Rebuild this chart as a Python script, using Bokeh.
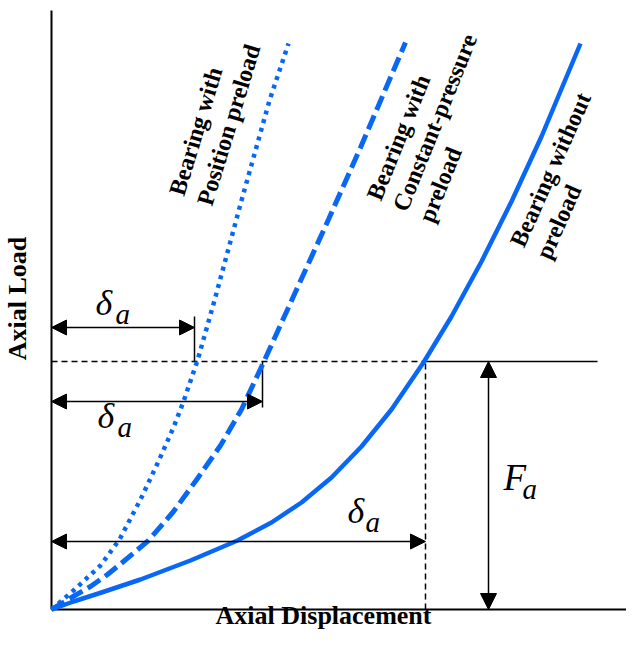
import math
from bokeh.plotting import figure
from bokeh.models import Arrow, NormalHead, Range1d
from bokeh.core.properties import value
from bokeh.embed import file_html
from bokeh.resources import INLINE

# ---- data (displacement, load) in arbitrary chart units ----
disp_without = [0, 22, 50, 89, 139, 186, 220, 250, 280, 310, 340, 372, 400, 430, 460, 490, 529]
load_without = [0, 8, 17, 30, 49, 69, 87, 107, 132, 163, 200, 247, 293, 348, 408, 473, 566]

disp_const = [0, 20, 39, 56, 72, 97, 122, 146, 169, 190, 212, 246, 277, 309, 354]
load_const = [0, 12, 23, 35, 48, 69, 98, 131, 164, 200, 247, 322, 390, 462, 567]

disp_pos = [0, 22, 49, 68, 89, 106, 122, 132, 146, 163, 190, 218, 237]
load_pos = [0, 19, 44, 70, 110, 146, 182, 208, 249, 309, 409, 509, 566]

Fa = 248                      # axial load level
delta_a = [143, 211, 374]     # displacement at Fa: position, constant-pressure, without
x_label = "Axial Displacement"
y_label = "Axial Load"

BLUE = "#0868F5"
SERIF = value("Liberation Serif")
LIFT = 0.4  # baseline correction (fraction of font size)

p = figure(width=626, height=631, x_range=Range1d(-51, 575), y_range=Range1d(-22, 609),
           output_backend="svg", toolbar_location=None, min_border=0,
           x_axis_type=None, y_axis_type=None)
p.outline_line_color = None
p.grid.visible = False
p.background_fill_color = "white"
p.border_fill_color = "white"

# axes lines
x_end, y_end = 600, 599
p.segment(x0=[0, 0], y0=[0, 0], x1=[0, x_end], y1=[y_end, 0], line_color="black", line_width=2)

# reference lines at Fa
p.segment(x0=[0], y0=[Fa], x1=[delta_a[2]], y1=[Fa], line_color="black", line_width=1.5, line_dash="6 4")
p.segment(x0=[delta_a[2]], y0=[0], x1=[delta_a[2]], y1=[Fa], line_color="black", line_width=1.5, line_dash="6 4")
p.segment(x0=[delta_a[2]], y0=[Fa], x1=[546], y1=[Fa], line_color="black", line_width=1.5)

# ticks at delta ends
p.segment(x0=[delta_a[0], delta_a[1]], y0=[Fa, Fa], x1=[delta_a[0], delta_a[1]], y1=[Fa + 45, Fa - 46],
          line_color="black", line_width=1.5)

def dim_arrow(x0, y0, x1, y1, size=15):
    p.add_layout(Arrow(
        start=NormalHead(size=size, fill_color="black", line_color="black", line_width=1),
        end=NormalHead(size=size, fill_color="black", line_color="black", line_width=1),
        x_start=x0, y_start=y0, x_end=x1, y_end=y1, line_color="black", line_width=1.5))

dim_arrow(0, 282, delta_a[0], 282)
dim_arrow(0, 208, delta_a[1], 208)
dim_arrow(0, 68, delta_a[2], 68)
dim_arrow(437, 0, 437, Fa, size=16)

# curves
p.line(disp_without, load_without, line_color=BLUE, line_width=4.5, line_join="round")
p.line(disp_const, load_const, line_color=BLUE, line_width=5, line_dash="15 6")
p.line(disp_pos, load_pos, line_color=BLUE, line_width=4.5, line_dash="4 5")

def txt(xs, ys, texts, fs, style, deg=0.0, align="left"):
    a = math.radians(deg)
    d = LIFT * fs
    vx, vy = -math.sin(a) * d, math.cos(a) * d
    p.text(x=[x + vx for x in xs], y=[y + vy for y in ys], text=texts, angle=a,
           text_font=SERIF, text_font_style=style, text_font_size=f"{fs}px",
           text_align=align, text_baseline="alphabetic", text_color="black")

# math labels
txt([44, 46, 296], [292, 179, 84], ["δ", "δ", "δ"], 36, "italic")
txt([64, 66, 314], [284, 171, 76], ["a", "a", "a"], 29, "italic")
txt([452], [117], ["F"], 37, "italic")
txt([471], [109], ["a"], 29, "italic")

# curve labels
txt([134, 162], [412, 402], ["Bearing with", "Position preload"], 24, "bold", 73)
txt([331, 357, 383], [407, 396, 385], ["Bearing with", "Constant-pressure", "preload"], 24, "bold", 68)
txt([474, 500], [360, 348], ["Bearing without", "preload"], 24, "bold", 66)

# axis titles
txt([272], [-16], [x_label], 26, "bold", 0, "center")
txt([-24], [311], [y_label], 26, "bold", 90, "center")

open("out.html", "w").write(file_html(p, INLINE))
